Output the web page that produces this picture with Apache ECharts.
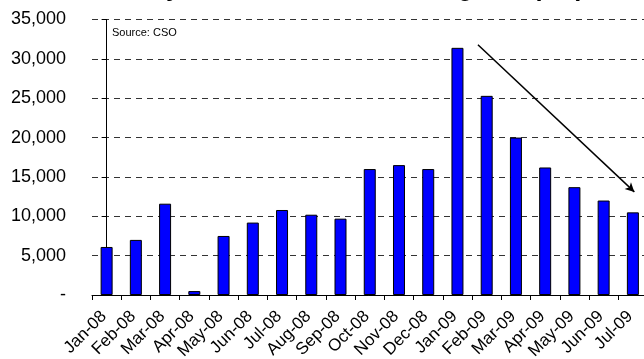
<!DOCTYPE html>
<html>
<head>
<meta charset="utf-8">
<script src="https://cdn.jsdelivr.net/npm/echarts@6/dist/echarts.min.js"></script>
<style>
  html, body { margin: 0; padding: 0; background: #fff; }
  #chart { width: 644px; height: 359px; }
</style>
</head>
<body>
<div id="chart"></div>
<script>
// Monthly change in the Live Register, Jan-08 to Jul-09
const months = ['Jan-08', 'Feb-08', 'Mar-08', 'Apr-08', 'May-08', 'Jun-08', 'Jul-08',
  'Aug-08', 'Sep-08', 'Oct-08', 'Nov-08', 'Dec-08', 'Jan-09', 'Feb-09', 'Mar-09',
  'Apr-09', 'May-09', 'Jun-09', 'Jul-09'];
const increase = [6100, 7000, 11600, 500, 7500, 9200, 10800, 10200, 9700, 16000,
  16500, 16000, 31400, 25300, 20000, 16200, 13700, 12000, 10500];
const yTicks = [0, 5000, 10000, 15000, 20000, 25000, 30000, 35000];
// Trend arrow from the January peak down to July (category index, value)
const trendStart = [12.7, 31800];
const trendEnd = [18.05, 13100];

const chart = echarts.init(document.getElementById('chart'), null, { renderer: 'canvas' });

const fmt = v => v === 0 ? '-' : v.toLocaleString('en-US');

chart.setOption({
  animation: false,
  backgroundColor: '#ffffff',
  title: {
    text: 'Monthly Increase in the Live Register (SA)',
    left: 79,
    top: -28,
    textStyle: { fontFamily: 'Liberation Sans, Arial', fontWeight: 'bold', fontSize: 25, color: '#000' }
  },
  graphic: [{
    type: 'text',
    left: 112,
    top: 27,
    style: { text: 'Source: CSO', fontFamily: 'Liberation Sans, Arial', fontSize: 11, fill: '#000' }
  }],
  grid: {
    left: 92, top: 19.5, width: 555.5, height: 275.5,
    containLabel: false, outerBoundsMode: 'none'
  },
  xAxis: [{
    type: 'category',
    data: months,
    boundaryGap: true,
    axisLine: { lineStyle: { color: '#000', width: 1 } },
    axisTick: { show: true, length: 5, lineStyle: { color: '#000' } },
    axisLabel: {
      rotate: 45, interval: 0, margin: 16, padding: [0, 4, 0, 0],
      fontFamily: 'Liberation Sans, Arial', fontSize: 17, color: '#000'
    },
    splitLine: { show: false }
  }, {
    type: 'value',
    min: -0.5,
    max: months.length - 0.5,
    show: false
  }],
  yAxis: {
    type: 'value',
    min: yTicks[0],
    max: yTicks[yTicks.length - 1],
    interval: yTicks[1] - yTicks[0],
    axisLine: { show: true, lineStyle: { color: '#000', width: 1 } },
    axisTick: { show: true, length: 5, lineStyle: { color: '#000' } },
    axisLabel: {
      formatter: fmt, margin: 26,
      fontFamily: 'Liberation Sans, Arial', fontSize: 18, color: '#000'
    },
    splitLine: { show: true, lineStyle: { color: '#333', type: [6, 5], width: 1 } }
  },
  series: [{
    type: 'bar',
    data: increase,
    barWidth: 12,
    itemStyle: { color: '#0000ff', borderColor: '#000', borderWidth: 1 },
    z: 2
  }, {
    type: 'line',
    xAxisIndex: 1,
    data: [],
    markLine: {
      silent: true,
      symbol: ['none', 'arrow'],
      symbolSize: [7, 9],
      label: { show: false },
      lineStyle: { color: '#000', width: 1.5, type: 'solid' },
      data: [[{ coord: trendStart }, { coord: trendEnd }]]
    }
  }]
});
</script>
</body>
</html>
